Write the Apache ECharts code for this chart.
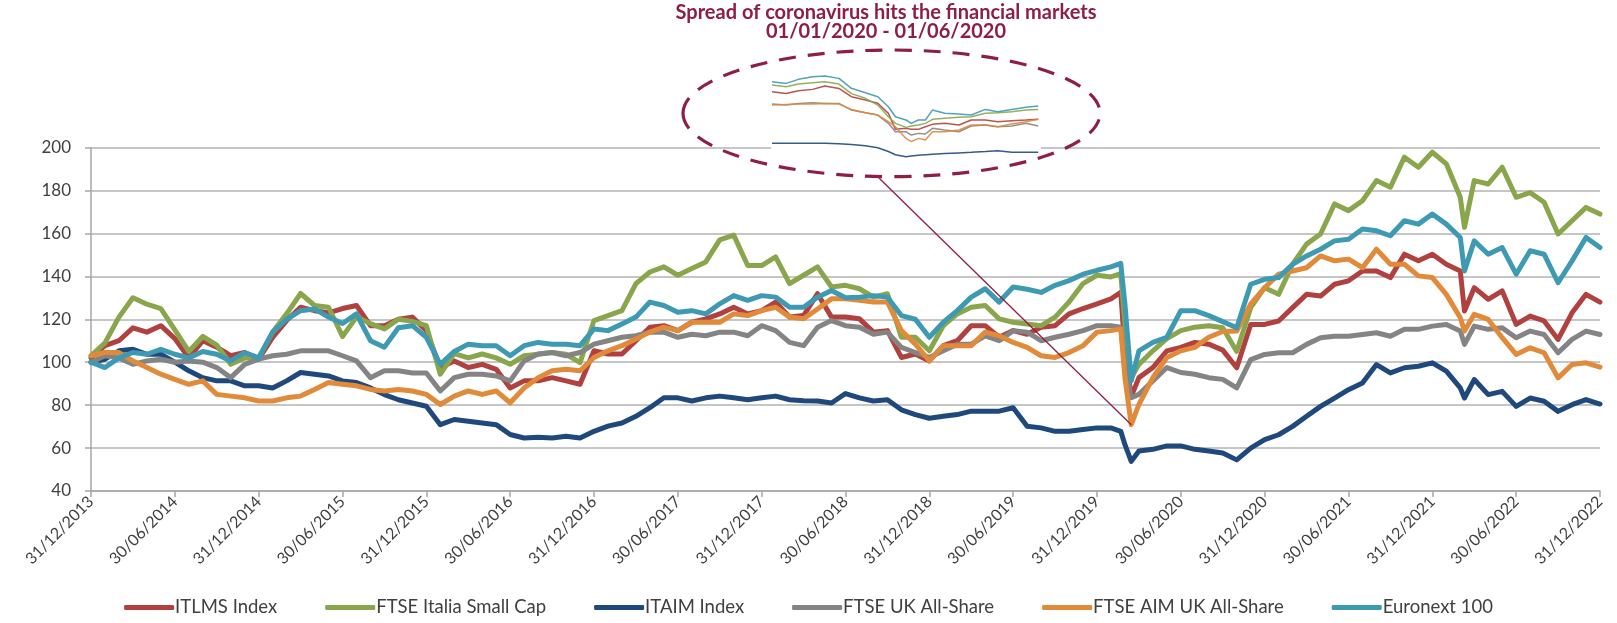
<!DOCTYPE html>
<html>
<head>
<meta charset="utf-8">
<title>Spread of coronavirus hits the financial markets</title>
<script src="https://cdn.jsdelivr.net/npm/echarts@6/dist/echarts.min.js"></script>
<style>
  html, body { margin: 0; padding: 0; background: #fff; }
  #chart { width: 1617px; height: 623px; }
</style>
</head>
<body>
<div id="chart"></div>
<script>
  // months after 31/12/2013 (extra points catch the Feb/Mar 2020 crash and the Nov 2021 dip)
  var months = [
    0, 1, 2, 3, 4, 5, 6, 7, 8, 9,
    10, 11, 12, 13, 14, 15, 16, 17, 18, 19,
    20, 21, 22, 23, 24, 25, 26, 27, 28, 29,
    30, 31, 32, 33, 34, 35, 36, 37, 38, 39,
    40, 41, 42, 43, 44, 45, 46, 47, 48, 49,
    50, 51, 52, 53, 54, 55, 56, 57, 58, 59,
    60, 61, 62, 63, 64, 65, 66, 67, 68, 69,
    70, 71, 72, 73,
    73.7, 74, 74.45,
    75, 76, 77, 78, 79,
    80, 81, 82, 83, 84, 85, 86, 87, 88, 89,
    90, 91, 92, 93, 94, 95, 96, 97, 98,
    98.3,
    99, 100, 101, 102, 103, 104, 105, 106, 107, 108
  ]

  var xTickLabels = ['31/12/2013', '30/06/2014', '31/12/2014', '30/06/2015', '31/12/2015', '30/06/2016',
    '31/12/2016', '30/06/2017', '31/12/2017', '30/06/2018', '31/12/2018', '30/06/2019', '31/12/2019',
    '30/06/2020', '31/12/2020', '30/06/2021', '31/12/2021', '30/06/2022', '31/12/2022']

  var itlms = [
    102, 107.7, 110, 116, 114, 117, 111, 102, 110, 107,
    103, 104.5, 101.4, 111.6, 119.4, 125.6, 124, 123, 125, 126.4,
    117, 117, 120, 121, 114.7, 97.5, 100.6, 97.5, 99, 96.7,
    88, 91.3, 91.3, 92.8, 91.3, 89.7, 105.3, 103.8, 103.8, 110,
    116.3, 117, 114.7, 118.6, 120.2, 122.5, 125.6, 122.5, 124, 128,
    121, 121.7, 131.9, 121, 121, 120.2, 114, 114.7, 102.2, 103.8,
    100.6, 107.7, 110, 117, 117, 111.6, 114.7, 113, 116.3, 117,
    122.5, 125, 127.2, 129.5,
    132.6, 105.3, 84,
    92.8, 97.5, 105.3, 106.9, 109.2,
    108.4, 105.6, 97.4, 117.6, 117.6, 119.2, 125.4, 131.6, 130.8, 136.3,
    137.9, 142.5, 142.5, 139.4, 150.3, 147.2, 150.3, 145.6, 142.5,
    123.8,
    134.7, 129.3, 133.2, 117.6, 121.5, 119.2, 110.6, 123, 131.6, 128
  ]

  var ftseItaliaSmall = [
    103, 109, 121, 130, 127, 125, 115, 105, 112, 108,
    99, 102, 102, 114, 122.5, 132, 126.4, 125.6, 112, 121,
    118, 115.5, 120, 119, 117, 94.4, 104, 102, 103.8, 102,
    99, 103, 103.7, 104.5, 103.7, 99.8, 119.4, 121.7, 124, 136.6,
    142, 144.4, 140.5, 143.6, 146.7, 157, 159.2, 145, 145, 149,
    136.6, 140.5, 144.4, 135, 135.8, 134.2, 130.3, 131.9, 111.6, 111.6,
    105.3, 117, 122.5, 125.6, 126.4, 120.2, 118.6, 117.8, 117, 121,
    128, 136.6, 140.5, 139.7,
    141.2, 118, 92.8,
    99, 105.3, 111, 114.7, 116.3,
    117, 116, 105, 125.4, 134.7, 131.6, 145.6, 155, 159.7, 173.7,
    170.6, 175.2, 184.6, 181.5, 195.5, 190.8, 197.8, 192.4, 176.8,
    162.8,
    184.6, 183, 190.8, 176.8, 179, 174.5, 159.7, 165.9, 172.1, 169
  ]

  var itaim = [
    100, 101.4, 105.3, 106, 103.7, 103.7, 100, 96, 92.8, 91.3,
    91.3, 89, 89, 88, 91.3, 95.2, 94.4, 93.6, 91.3, 90.5,
    88, 84.9, 82.5, 81, 79.5, 70.9, 73.3, 72.5, 71.7, 70.9,
    66.3, 64.7, 65, 64.7, 65.5, 64.7, 67.8, 70.2, 71.7, 74.8,
    78.8, 83.4, 83.4, 81.9, 83.4, 84.2, 83.4, 82.5, 83.4, 84.2,
    82.5, 82, 81.9, 81, 85.4, 83.4, 81.9, 82.5, 77.8, 75.6,
    73.9, 74.8, 75.6, 77.2, 77.2, 77.2, 78.8, 70.2, 69.4, 67.8,
    67.8, 68.6, 69.4, 69.4,
    67.8, 61.6, 53.8,
    58.6, 59.4, 61, 61, 59.4,
    58.6, 57.7, 54.5, 60, 63.9, 66.2, 70.1, 74.8, 79.4, 83.3,
    87.2, 90.3, 98.9, 95, 97.4, 98.1, 99.7, 95.8, 88,
    83.3,
    91.9, 84.9, 86.4, 79.4, 83.3, 81.8, 77.1, 80.2, 82.6, 80.5
  ]

  var ftseUk = [
    100, 103, 102, 99, 100.6, 101.4, 100, 100.6, 100, 97.5,
    92.8, 99, 101.4, 103, 103.7, 105.3, 105.3, 105.3, 103, 100.6,
    92.8, 96, 96, 95, 95, 86.6, 92.8, 94.4, 94.4, 93.6,
    91.3, 100.6, 103.8, 104.5, 103, 104.5, 108.4, 110, 111.6, 112.3,
    114, 114, 111.6, 113, 112.3, 114, 114, 112.3, 117, 114.7,
    109.2, 107.7, 116.3, 119.4, 117, 116.3, 113, 114, 106.9, 104.5,
    102.2, 105.3, 108.4, 108.4, 112.3, 110, 114.7, 114, 110, 111.6,
    113, 114.7, 117, 117,
    116.3, 99, 83.4,
    85, 91.3, 97.5, 95.2, 94.4,
    92.8, 92, 88, 101.2, 103.6, 104.4, 104.4, 108.3, 111.4, 112.1,
    112.1, 112.9, 113.7, 112.1, 115.3, 115.3, 116.8, 117.6, 114.5,
    108.3,
    116.8, 115.3, 116, 111.4, 114.5, 112.9, 104.4, 110.6, 114.5, 112.9
  ]

  var ftseAimUk = [
    103, 104.5, 104.5, 100.6, 97.5, 94.4, 92, 89.7, 91.3, 85,
    84.2, 83.4, 81.9, 81.9, 83.4, 84.2, 87.3, 90.5, 89.7, 89,
    87.3, 86.6, 87.3, 86.6, 85, 80.3, 84.2, 86.6, 85, 86.6,
    81.1, 88, 92.8, 96, 96.7, 96, 102.2, 105.3, 107.7, 110.8,
    114, 116.3, 114.7, 118.6, 118.6, 118.6, 122.5, 121.7, 124, 125.6,
    121, 120.2, 124.8, 129.5, 129.5, 128.8, 128, 128, 114.7, 108.4,
    100.6, 107.7, 107.7, 107.7, 114, 112.3, 109.2, 106.9, 103, 102.2,
    104.5, 107.7, 114, 114.7,
    115.5, 92.8, 70.9,
    80.3, 92.8, 102.2, 105.3, 106.9,
    111.6, 114.3, 114.5, 127, 134.7, 141, 142.5, 144, 149.5, 147.2,
    148, 144, 152.6, 145.6, 145.6, 140.2, 139.4, 131.6, 120.7,
    114.5,
    122.3, 119.9, 111.4, 103.6, 106.7, 104.4, 92.7, 98.9, 99.7, 97.7
  ]

  var euronext100 = [
    100, 97.5, 102, 104.5, 103.7, 106, 103.7, 102, 105, 103.7,
    100.6, 104.5, 102, 114, 120, 124, 124.8, 121, 118, 122.5,
    110, 107, 116, 117, 111.6, 99, 105, 108.4, 107.7, 107.7,
    103, 107.7, 109.2, 108.4, 108.4, 107.7, 115.5, 114.7, 117.8, 121,
    128, 126.4, 123.3, 124, 122.5, 127.2, 131, 128.8, 131, 130.3,
    125.6, 125.6, 130.3, 133.4, 130, 130.3, 131, 130.3, 121.7, 120,
    111.6, 118.6, 124, 130.3, 134.2, 128, 135, 134, 132.5, 135.8,
    138, 141, 142.8, 144.4,
    146, 127, 91.3,
    105.3, 109.2, 111.6, 124, 124,
    121.7, 118.9, 116, 136.3, 138.6, 139.4, 145.6, 149.5, 152.6, 156.5,
    157.3, 162, 161.2, 158.9, 165.9, 164.3, 169, 164.3, 158.1,
    142.5,
    156.5, 150.3, 153.4, 141, 151.9, 150.3, 137, 147.2, 158.1, 153.4
  ]

  // zoomed window 01/01/2020 - 01/06/2020, days from 01/01/2020
  var insetDays = [0, 8, 15, 23, 30, 38, 45, 53, 60, 66, 70, 76, 79, 83, 87, 91, 98, 106, 113, 121, 128, 136, 144, 151]
  var insetItlms = [131.9, 129.8, 133.1, 134.7, 138.8, 135.9, 125.8, 121.7, 117.7, 105.5, 86, 87.2, 86, 86, 89.2, 92.1, 93.3, 91.3, 97.4, 97.4, 95.3, 96.5, 97.4, 98.2]
  var insetItaliaSmall = [140, 138, 141.2, 142.8, 144, 141.2, 129.5, 123.8, 115.6, 101.4, 93.3, 88.4, 90, 91.3, 93.3, 98.2, 99.4, 100.6, 101.4, 105.5, 106.3, 107.5, 109.5, 110.3]
  var insetItaim = [69, 69, 69.2, 69.2, 69, 68.5, 67.5, 66, 63.5, 59, 55, 52.6, 53.5, 54.5, 55.2, 55.8, 56.5, 57.3, 58, 59, 60, 58, 58, 58]
  var insetUk = [116.8, 115.6, 117.6, 118.5, 117.6, 117.6, 109.5, 106.3, 103.4, 93.3, 83.1, 83.1, 79.1, 81.1, 80.3, 87.2, 85.2, 83.1, 90.1, 91.3, 89.2, 90.1, 93.3, 90.1]
  var insetAimUk = [115.6, 116.4, 116.8, 116.8, 117.6, 116.8, 110.3, 106.3, 103.4, 95.3, 89.2, 75, 71, 75, 73, 83.1, 83.1, 85.2, 91.3, 91.3, 89.2, 92.5, 95.3, 98.2]
  var insetEuronext = [144, 142, 146.9, 150.1, 150.9, 148.1, 136, 130.6, 125.8, 113.6, 101.4, 97.4, 93.3, 97.4, 97.4, 109.5, 105.5, 104.7, 103.4, 110.3, 107.5, 110.3, 112.8, 114.4]

  var seriesNames = ['ITLMS Index', 'FTSE Italia Small Cap', 'ITAIM Index', 'FTSE UK All-Share', 'FTSE AIM UK All-Share', 'Euronext 100']
  var seriesColors = ['#B0413E', '#8AA64C', '#1F497D', '#848484', '#E08A3A', '#3E9AB3']
  var mainValues = [itlms, ftseItaliaSmall, itaim, ftseUk, ftseAimUk, euronext100]
  var insetValues = [insetItlms, insetItaliaSmall, insetItaim, insetUk, insetAimUk, insetEuronext]

  var font = 'Lato'
  var textColor = '#404040'
  var gridColor = '#B3B3B3'
  var accent = '#8E1E45'

  function pairs (xs, ys) {
    return xs.map(function (x, i) { return [x, ys[i]] })
  }

  var series = []
  seriesNames.forEach(function (name, i) {
    series.push({
      name: name,
      type: 'line',
      xAxisIndex: 0,
      yAxisIndex: 0,
      data: pairs(months, mainValues[i]),
      symbol: 'none',
      z: 2,
      itemStyle: { color: seriesColors[i] },
      lineStyle: { width: 5, color: seriesColors[i], cap: 'round', join: 'round' }
    })
  })
  seriesNames.forEach(function (name, i) {
    series.push({
      name: name,
      type: 'line',
      xAxisIndex: 1,
      yAxisIndex: 1,
      data: pairs(insetDays, insetValues[i]),
      symbol: 'none',
      silent: true,
      z: 4,
      itemStyle: { color: seriesColors[i] },
      lineStyle: { width: 1.5, color: seriesColors[i], opacity: 0.9 }
    })
  })

  var option = {
    animation: false,
    backgroundColor: '#fff',
    textStyle: { fontFamily: font },
    grid: [
      { left: 91, right: 17, top: 147.5, bottom: 132 },
      { left: 772, top: 60.4, width: 268, height: 98.5 }
    ],
    legend: {
      data: seriesNames,
      left: 'center',
      bottom: 1,
      icon: 'roundRect',
      itemWidth: 50,
      itemHeight: 5,
      itemGap: 48,
      textStyle: { fontFamily: font, fontSize: 18.5, color: textColor, padding: [0, 0, 0, -4] }
    },
    xAxis: [
      {
        type: 'value',
        gridIndex: 0,
        min: 0,
        max: 108,
        interval: 6,
        axisLine: { lineStyle: { color: '#A6A6A6', width: 1.5 } },
        axisTick: { show: true, length: 6, lineStyle: { color: '#A6A6A6', width: 1.5 } },
        splitLine: { show: false },
        axisLabel: {
          rotate: 45,
          margin: 8,
          fontFamily: font,
          fontSize: 16,
          color: textColor,
          formatter: function (v) { return xTickLabels[Math.round(v / 6)] }
        }
      },
      { type: 'value', gridIndex: 1, min: 0, max: 152, show: false }
    ],
    yAxis: [
      {
        type: 'value',
        gridIndex: 0,
        min: 40,
        max: 200,
        interval: 20,
        axisLine: { show: true, lineStyle: { color: '#A6A6A6', width: 1.5 } },
        axisTick: { show: true, length: 6, lineStyle: { color: '#A6A6A6', width: 1.5 } },
        splitLine: { lineStyle: { color: gridColor, width: 1.5 } },
        axisLabel: { margin: 20, fontFamily: font, fontSize: 17, color: textColor }
      },
      { type: 'value', gridIndex: 1, min: 50, max: 170, show: false }
    ],
    graphic: [
      // white card behind the inset hides the 200 gridline
      { id: 'insetBg', type: 'rect', z: 1, shape: { x: 771, y: 140, width: 270, height: 14 }, style: { fill: '#fff' } },
      {
        id: 'ring',
        type: 'ellipse',
        z: 5,
        shape: { cx: 891.5, cy: 113.3, rx: 208.5, ry: 63.3 },
        style: { fill: 'none', stroke: accent, lineWidth: 3.2, lineDash: [17, 12] }
      },
      {
        id: 'title1',
        type: 'text',
        z: 5,
        x: 886,
        y: 13,
        style: { text: 'Spread of coronavirus hits the financial markets', fill: accent, font: 'bold 20px Lato', textAlign: 'center', textVerticalAlign: 'middle' }
      },
      {
        id: 'title2',
        type: 'text',
        z: 5,
        x: 886,
        y: 32,
        style: { text: '01/01/2020 - 01/06/2020', fill: accent, font: 'bold 20px Lato', textAlign: 'center', textVerticalAlign: 'middle' }
      }
    ],
    series: series
  }

  var chart = echarts.init(document.getElementById('chart'))
  chart.setOption(option)

  // connector from the ring down to the FTSE AIM UK crash low
  var crashIdx = months.indexOf(74.45)
  var crashPt = chart.convertToPixel({ xAxisIndex: 0, yAxisIndex: 0 }, [months[crashIdx], ftseAimUk[crashIdx]])
  chart.setOption({
    graphic: [
      {
        id: 'connector',
        type: 'line',
        z: 5,
        shape: { x1: 879, y1: 178, x2: crashPt[0], y2: crashPt[1] },
        style: { stroke: accent, lineWidth: 1.3 }
      }
    ]
  })
</script>
</body>
</html>
